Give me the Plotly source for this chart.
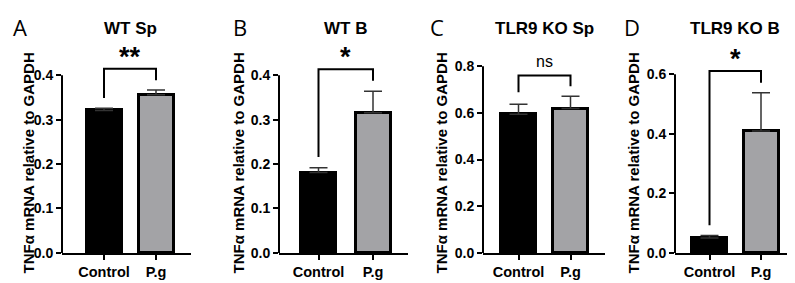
import plotly.graph_objects as go

# ---------------- data ----------------
categories = ["Control", "P.g"]
panel_letters = ["A", "B", "C", "D"]
panel_titles = ["WT Sp", "WT B", "TLR9 KO Sp", "TLR9 KO B"]
y_title = "TNFα mRNA relative to GAPDH"

means_A = [0.321, 0.356]
err_A = [0.005, 0.011]
means_B = [0.181, 0.316]
err_B = [0.011, 0.048]
means_C = [0.594, 0.619]
err_C = [0.043, 0.053]
means_D = [0.050, 0.410]
err_D = [0.008, 0.128]

sig_labels = ["**", "*", "ns", "*"]
bracket_top = [0.415, 0.414, 0.761, 0.611]
bracket_left = [0.349, 0.216, 0.689, 0.093]
bracket_right = [0.389, 0.388, 0.714, 0.572]

ticks_A = [0.0, 0.1, 0.2, 0.3, 0.4]
ticks_B = [0.0, 0.1, 0.2, 0.3, 0.4]
ticks_C = [0.0, 0.2, 0.4, 0.6, 0.8]
ticks_D = [0.0, 0.2, 0.4, 0.6]

means = [means_A, means_B, means_C, means_D]
errs = [err_A, err_B, err_C, err_D]
ticks = [ticks_A, ticks_B, ticks_C, ticks_D]

# ---------------- layout geometry (pixels) ----------------
W, H = 795, 283
x_px = [(54, 183), (271, 400), (475, 597), (667, 788)]
centers = [(96, 52), (310.5, 54.5), (510.5, 52), (701.5, 51.5)]
top_tick_px = [69.3, 69.3, 60.0, 68.3]
bottom_px = 252
plot_top_px = 38
ytitle_x = [20, 230, 433, 625]
letter_x = [12, 232, 429, 624]

FONT = "Arial"
BAR_COLORS = ["#000000", "#a3a3a6"]

fig = go.Figure()
layout = dict(
    width=W, height=H, margin=dict(l=0, r=0, t=0, b=0),
    paper_bgcolor="white", plot_bgcolor="white",
    showlegend=False, bargap=0,
    font=dict(family=FONT, color="black"),
)
annotations = []
shapes = []

y_dom = [(H - bottom_px) / H, (H - plot_top_px) / H]

for i in range(4):
    sfx = "" if i == 0 else str(i + 1)
    xa, ya = "x" + sfx, "y" + sfx
    x0, x1 = x_px[i]
    c0, sp = centers[i]
    xr = [(x0 - c0) / sp, (x1 - c0) / sp]
    top_val = ticks[i][-1]
    px_per_unit = (bottom_px - top_tick_px[i]) / top_val
    yr_top = (bottom_px - plot_top_px) / px_per_unit
    bw = 35 / sp

    fig.add_trace(go.Bar(
        x=[0, 1], y=means[i], width=[bw, bw],
        marker=dict(color=BAR_COLORS, line=dict(color="black", width=3)),
        error_y=dict(type="data", symmetric=False, array=errs[i],
                     arrayminus=[0, 0], color="#333333", thickness=1.5, width=9),
        xaxis=xa, yaxis=ya, hoverinfo="skip",
    ))
    # significance bracket
    fig.add_trace(go.Scatter(
        x=[0, 0, 1, 1],
        y=[bracket_left[i], bracket_top[i], bracket_top[i], bracket_right[i]],
        mode="lines", line=dict(color="black", width=2),
        xaxis=xa, yaxis=ya, hoverinfo="skip",
    ))
    is_ns = sig_labels[i] == "ns"
    annotations.append(dict(
        x=0.5, y=bracket_top[i], xref=xa, yref=ya,
        text=sig_labels[i] if is_ns else "<b>%s</b>" % sig_labels[i],
        showarrow=False, yanchor="bottom",
        yshift=3 if is_ns else -5,
        font=dict(size=16 if is_ns else 27, family=FONT, color="black"),
    ))
    # panel title
    annotations.append(dict(
        x=0.5, y=(H - 21) / H, xref=xa, yref="paper",
        text="<b>%s</b>" % panel_titles[i], showarrow=False,
        yanchor="middle", font=dict(size=17, family=FONT, color="black"),
    ))
    # panel letter
    annotations.append(dict(
        x=letter_x[i] / W, y=(H - 20) / H, xref="paper", yref="paper",
        text=panel_letters[i], showarrow=False, yanchor="middle",
        xanchor="center",
        font=dict(size=22, family="Open Sans", color="black"),
    ))
    # y title
    annotations.append(dict(
        x=ytitle_x[i] / W, y=(H - 160) / H, xref="paper", yref="paper",
        text="<b>%s</b>" % y_title, showarrow=False, textangle=-90,
        xanchor="center", yanchor="middle",
        font=dict(size=15, family=FONT, color="black"),
    ))
    # y axis line (only up to top tick)
    shapes.append(dict(
        type="line", xref=xa + " domain", yref=ya, x0=0, x1=0, y0=0, y1=top_val,
        line=dict(color="black", width=2),
    ))

    layout["xaxis" + sfx] = dict(
        domain=[x0 / W, x1 / W], range=xr, anchor=ya,
        tickvals=[0, 1], ticktext=["<b>%s</b>" % c for c in categories],
        ticks="outside", ticklen=5, tickwidth=2, tickcolor="black",
        showline=True, linewidth=2, linecolor="black",
        showgrid=False, zeroline=False, fixedrange=True,
        tickfont=dict(size=14.5, family=FONT, color="black"),
    )
    layout["yaxis" + sfx] = dict(
        domain=y_dom, range=[0, yr_top], anchor=xa,
        tickvals=ticks[i],
        ticktext=["<b>%.1f</b>" % t for t in ticks[i]],
        ticks="outside", ticklen=5, tickwidth=2, tickcolor="black",
        showline=False, showgrid=False, zeroline=False, fixedrange=True,
        tickfont=dict(size=14, family=FONT, color="black"),
    )

layout["annotations"] = annotations
layout["shapes"] = shapes
fig.update_layout(**layout)
fig.write_html("out.html")
